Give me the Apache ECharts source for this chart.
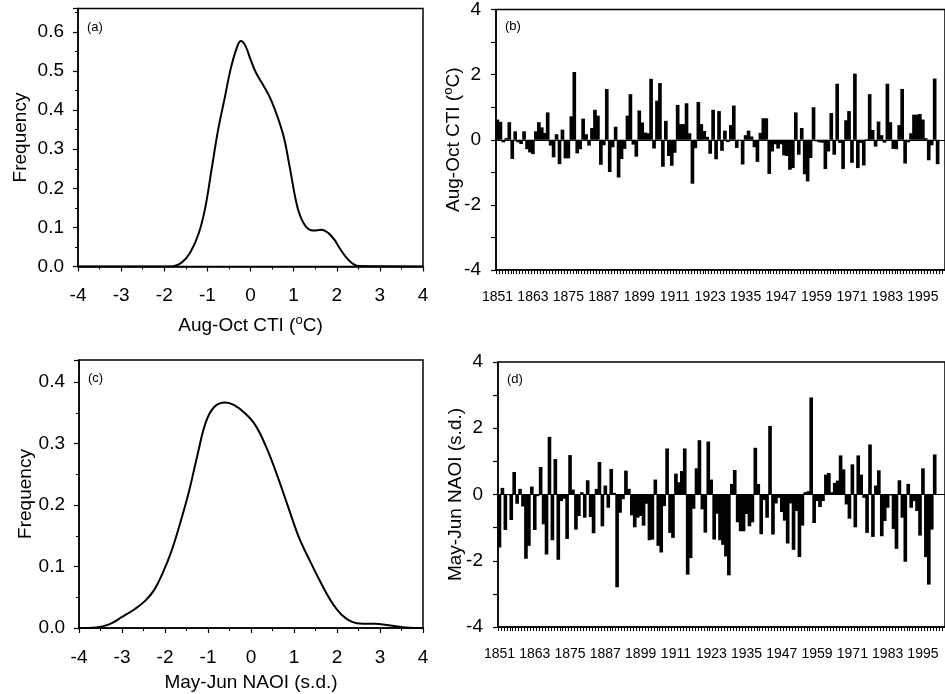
<!DOCTYPE html>
<html>
<head>
<meta charset="utf-8">
<script src="https://cdn.jsdelivr.net/npm/echarts@6/dist/echarts.min.js"></script>
<style>
html,body{margin:0;padding:0;background:#fff;}
#chart{width:945px;height:694px;}
</style>
</head>
<body>
<div id="chart"></div>
<script>
// ---------- DATA ----------
// (a) density of Aug-Oct CTI
const ctiX = [-4, -1.85, -1.6, -1.4, -1.2, -1.05, -0.9, -0.75, -0.6, -0.45, -0.3, -0.22, -0.12, 0, 0.13, 0.3, 0.5, 0.75, 0.9, 1.05, 1.15, 1.3, 1.45, 1.65, 1.8, 1.95, 2.05, 2.2, 2.35, 2.5, 4];
const ctiY = [0, 0, 0.01, 0.035, 0.085, 0.15, 0.25, 0.35, 0.43, 0.51, 0.565, 0.577, 0.565, 0.53, 0.495, 0.463, 0.42, 0.34, 0.26, 0.17, 0.13, 0.1, 0.092, 0.094, 0.086, 0.068, 0.05, 0.026, 0.009, 0.001, 0];
// (c) density of May-Jun NAOI
const naoX = [-4, -3.6, -3.3, -3.0, -2.7, -2.45, -2.25, -2.05, -1.85, -1.65, -1.45, -1.25, -1.05, -0.85, -0.6, -0.4, -0.15, 0.1, 0.35, 0.6, 0.85, 1.1, 1.35, 1.6, 1.85, 2.1, 2.35, 2.6, 2.9, 3.15, 3.45, 3.8, 4];
const naoY = [0, 0.001, 0.006, 0.018, 0.031, 0.045, 0.062, 0.09, 0.125, 0.17, 0.22, 0.28, 0.335, 0.36, 0.367, 0.363, 0.35, 0.33, 0.295, 0.25, 0.2, 0.15, 0.112, 0.077, 0.045, 0.022, 0.01, 0.007, 0.007, 0.005, 0.002, 0, 0];

// (b),(d) yearly series, starting 1851
const firstYear = 1851;
const lastYear = 2002;   // axis extends past the right edge of the picture
const ctiValues = [
 0.62, 0.55, -0.08, 0.05, 0.54, -0.59, 0.26, -0.08, -0.13, 0.26,
 -0.29, -0.39, -0.44, 0.26, 0.54, 0.38, 0.21, 0.84, -0.18, -0.54,
 0.17, -0.75, 0.31, -0.57, -0.57, 0.72, 2.08, -0.42, -0.29, 0.65,
 0.17, -0.18, 0.36, 0.92, 0.74, -0.77, -0.17, 1.56, -0.99, -0.23,
 0.4, -1.16, -0.59, -0.28, 0.74, 1.4, -0.15, -0.52, 0.9, 0.53,
 0.22, 0.2, 1.87, -0.27, 1.2, 1.74, -0.83, 0.58, -0.5, -0.8,
 -0.4, 1.07, 0.48, 0.48, 1.12, 0.2, -1.35, -0.26, 1.16, 0.48,
 0.27, 0.09, -0.43, 0.92, -0.6, 0.88, -0.34, 0.28, -0.07, 0.45,
 1.05, -0.25, -0.03, -0.76, 0.14, 0.28, 0.1, -0.23, -0.68, 0.21,
 0.66, 0.66, -1.05, -0.36, -0.14, -0.27, -0.14, -0.48, -0.5, -0.92,
 -0.87, 0.84, -0.46, 0.36, -1.06, -1.28, -0.56, 1.0, -0.05, -0.08,
 -0.09, -0.9, -0.36, 0.82, -0.46, 1.72, -0.1, -0.9, 0.6, 0.88,
 -0.71, 2.03, -0.87, -0.1, -0.79, 0.02, 1.4, 0.3, -0.21, 0.56,
 0.14, -0.09, 1.72, 0.54, -0.28, -0.29, 0.45, 1.56, -0.73, -0.08,
 0.2, 0.77, 0.77, 0.79, 0.62, 0.05, -0.63, -0.17, 1.88, -0.75
];
const naoValues = [
 -1.6, 0.2, -1.07, -0.02, -0.77, 0.68, -0.28, 0.17, -0.36, -1.94,
 -1.55, 0.24, -1.07, -0.05, 0.83, -0.9, -1.81, 1.74, -1.38, 1.07,
 -1.97, -0.2, -0.13, -1.34, 1.19, 0.15, -1.06, -0.65, 0.07, -0.7,
 0.43, -0.68, -1.17, 0.17, 0.98, -0.96, 0.27, -0.4, 0.77, 0.05,
 -2.8, -0.55, -0.14, 0.72, 0.17, -0.63, -0.99, -0.7, -0.65, -0.94,
 -0.28, -1.38, -1.36, 0.45, -1.55, -1.75, -0.35, 1.39, -1.16, -1.31,
 0.63, 0.37, 0.71, 1.39, -2.42, -1.92, -0.43, 0.79, 1.64, -0.45,
 -1.15, 1.6, 0.45, -1.36, -0.58, -1.38, -1.52, -1.87, -2.44, 0.32,
 0.74, -0.84, -1.11, -1.11, -0.59, -0.96, -0.84, 1.41, 0.32, -1.2,
 -0.17, -0.7, 2.07, -1.21, -0.27, -0.1, -0.53, -0.79, -1.48, -0.27,
 -1.67, -0.5, -1.89, -0.94, 0.07, 0.1, 2.93, -0.86, -0.2, -0.38,
 -0.2, 0.6, 0.65, 0.07, 0.35, 0.42, 1.18, 0.76, -0.3, -0.73,
 0.91, -0.99, 1.18, 0.6, -0.1, -1.16, 1.51, -1.28, 0.27, 0.73,
 -1.26, -0.8, -0.4, -0.03, -1.04, -1.64, 0.43, -0.7, -2.03, 0.32,
 -0.4, -0.2, -0.5, -1.24, 0.79, -1.89, -2.72, -1.06, 1.21
];
const densityXTicks = [-4, -3, -2, -1, 0, 1, 2, 3, 4];

// ---------- BUILD ----------
const years = [];
for (let y = firstYear; y <= lastYear; y++) years.push(String(y));
const pairs = (xs, ys) => xs.map((x, i) => [x, ys[i]]);
const yearPairs = vals => vals.map((v, i) => [years[i], v]);

const FONT = 'Liberation Sans, Arial, Helvetica, sans-serif';
const BLACK = '#000';
const axisLineStyle = { show: true, onZero: false, lineStyle: { color: BLACK, width: 1.5 } };
const supStyle = { fontFamily: FONT, fontSize: 13, color: BLACK, verticalAlign: 'bottom', padding: [0, 0, 11, 0] };

function densityX(name, gap) {
  return {
    type: 'value', min: densityXTicks[0], max: densityXTicks[densityXTicks.length - 1], interval: 1,
    name: name, nameLocation: 'middle', nameGap: gap, nameMoveOverlap: false,
    nameTextStyle: { fontFamily: FONT, fontSize: 19, color: BLACK, rich: { sup: supStyle } },
    axisLine: axisLineStyle,
    axisTick: { show: true, inside: false, length: 5, lineStyle: { color: BLACK, width: 1.2 } },
    minorTick: { show: true, splitNumber: 2, length: 3, lineStyle: { color: BLACK, width: 1 } },
    axisLabel: { fontFamily: FONT, fontSize: 19, color: BLACK, margin: 20 },
    splitLine: { show: false }
  };
}
function densityY(max, gap, gi) {
  return {
    type: 'value', gridIndex: gi, min: 0, max: max, interval: 0.1,
    name: 'Frequency', nameLocation: 'middle', nameGap: gap, nameRotate: 90, nameMoveOverlap: false,
    nameTextStyle: { fontFamily: FONT, fontSize: 19, color: BLACK },
    axisLine: axisLineStyle,
    axisTick: { show: true, length: 5, lineStyle: { color: BLACK, width: 1.2 } },
    minorTick: { show: true, splitNumber: 2, length: 3, lineStyle: { color: BLACK, width: 1 } },
    axisLabel: { fontFamily: FONT, fontSize: 19, color: BLACK, margin: 14, showMaxLabel: false,
      formatter: v => (Math.abs(v * 10 - Math.round(v * 10)) < 1e-6) ? v.toFixed(1) : '' },
    splitLine: { show: false }
  };
}
function yearX(gi) {
  return {
    type: 'category', gridIndex: gi, data: years, boundaryGap: true,
    axisLine: axisLineStyle,
    axisTick: { show: true, interval: 0, length: 4, lineStyle: { color: BLACK, width: 1 } },
    axisLabel: { fontFamily: FONT, fontSize: 14, color: BLACK, interval: 11, margin: 20 },
    splitLine: { show: false }
  };
}
function yearY(name, gap, gi) {
  return {
    type: 'value', gridIndex: gi, min: -4, max: 4, interval: 1,
    name: name, nameLocation: 'middle', nameGap: gap, nameRotate: 90, nameMoveOverlap: false,
    nameTextStyle: { fontFamily: FONT, fontSize: 19, color: BLACK, rich: { sup: supStyle } },
    axisLine: axisLineStyle,
    axisTick: { show: true, length: 5, lineStyle: { color: BLACK, width: 1.2 } },
    axisLabel: { fontFamily: FONT, fontSize: 19, color: BLACK, margin: 15,
      formatter: v => (v % 2 === 0 ? String(v) : '') },
    splitLine: { show: false }
  };
}
const gridStyle = { show: true, borderColor: BLACK, borderWidth: 1.5, backgroundColor: 'transparent' };

// bars drawn through the axes' own scales, slightly widened so adjacent bars merge
function renderBar(params, api) {
  const top = api.coord([api.value(0), api.value(1)]);
  const base = api.coord([api.value(0), 0]);
  const w = api.size([1, 0])[0];
  const y0 = Math.min(top[1], base[1]);
  const h = Math.max(Math.abs(top[1] - base[1]), 0.6);
  return {
    type: 'rect',
    shape: { x: base[0] - w / 2 - 0.35, y: y0, width: w + 0.7, height: h },
    style: { fill: BLACK }
  };
}
function zeroLine() {
  return { silent: true, symbol: 'none', label: { show: false },
    lineStyle: { color: BLACK, width: 1, type: 'solid' }, data: [{ yAxis: 0 }] };
}

const option = {
  backgroundColor: '#fff',
  animation: false,
  textStyle: { fontFamily: FONT },
  grid: [
    Object.assign({ left: 78, top: 8.5, width: 345, height: 258 }, gridStyle),
    Object.assign({ left: 496, top: 9.5, width: 456, height: 260.5 }, gridStyle),
    Object.assign({ left: 79, top: 360, width: 344, height: 268 }, gridStyle),
    Object.assign({ left: 498, top: 362, width: 456, height: 265 }, gridStyle)
  ],
  xAxis: [
    Object.assign(densityX('Aug-Oct CTI ({sup|o}C)', 47), { gridIndex: 0 }),
    yearX(1),
    Object.assign(densityX('May-Jun NAOI (s.d.)', 45), { gridIndex: 2 }),
    yearX(3)
  ],
  yAxis: [
    densityY(0.66, 48, 0),
    yearY('Aug-Oct CTI ({sup|o}C)', 30, 1),
    densityY(0.436, 44, 2),
    yearY('May-Jun NAOI (s.d.)', 33, 3)
  ],
  series: [
    { type: 'line', xAxisIndex: 0, yAxisIndex: 0, data: pairs(ctiX, ctiY), smooth: 0.4, showSymbol: false,
      lineStyle: { color: BLACK, width: 2 } },
    { type: 'custom', xAxisIndex: 1, yAxisIndex: 1, data: yearPairs(ctiValues), renderItem: renderBar,
      encode: { x: 0, y: 1 }, markLine: zeroLine() },
    { type: 'line', xAxisIndex: 2, yAxisIndex: 2, data: pairs(naoX, naoY), smooth: 0.4, showSymbol: false,
      lineStyle: { color: BLACK, width: 2 } },
    { type: 'custom', xAxisIndex: 3, yAxisIndex: 3, data: yearPairs(naoValues), renderItem: renderBar,
      encode: { x: 0, y: 1 }, markLine: zeroLine() }
  ],
  graphic: [
    { type: 'text', left: 87, top: 21, style: { text: '(a)', fontFamily: FONT, fontSize: 13, fill: BLACK } },
    { type: 'text', left: 505, top: 20, style: { text: '(b)', fontFamily: FONT, fontSize: 13, fill: BLACK } },
    { type: 'text', left: 88, top: 372, style: { text: '(c)', fontFamily: FONT, fontSize: 13, fill: BLACK } },
    { type: 'text', left: 507, top: 373, style: { text: '(d)', fontFamily: FONT, fontSize: 13, fill: BLACK } }
  ]
};

const chart = echarts.init(document.getElementById('chart'), null, { renderer: 'canvas' });
chart.setOption(option);
</script>
</body>
</html>
